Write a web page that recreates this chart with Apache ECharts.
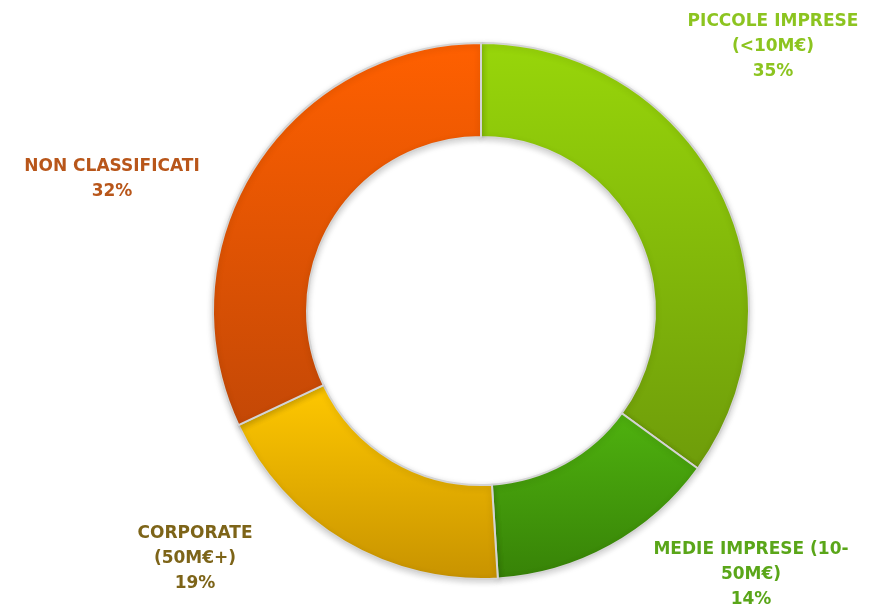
<!DOCTYPE html>
<html>
<head>
<meta charset="utf-8">
<script src="https://cdn.jsdelivr.net/npm/echarts@6/dist/echarts.min.js"></script>
<style>
  html, body { margin: 0; padding: 0; background: #fff; }
  #chart { width: 887px; height: 606px; }
</style>
</head>
<body>
<div id="chart"></div>
<script>
// dati del grafico
const categories = ['PICCOLE IMPRESE\n(<10M€)', 'MEDIE IMPRESE (10-\n50M€)', 'CORPORATE\n(50M€+)', 'NON CLASSIFICATI'];
const values = [35, 14, 19, 32];

// colori: [alto, basso] del gradiente, e colore etichetta
const sliceColors = [
  ['#98d60a', '#6e9c0a'],
  ['#4fb20f', '#378207'],
  ['#ffc800', '#c89300'],
  ['#ff6000', '#c44806'],
];
const labelColors = ['#8cc420', '#5aa619', '#7d6418', '#b8561a'];
// centro delle etichette (px)
const labelPos = [[773, 47], [751, 575], [195, 559], [112, 179]];

let myChart = echarts.init(document.getElementById('chart'));

let option = {
  animation: false,
  series: [
    {
      type: 'pie',
      center: [481, 311],
      radius: [174, 268],
      startAngle: 90,
      clockwise: true,
      data: categories.map((name, i) => ({
        name: name,
        value: values[i],
        itemStyle: {
          color: new echarts.graphic.LinearGradient(0, 0, 0, 1, [
            { offset: 0, color: sliceColors[i][0] },
            { offset: 1, color: sliceColors[i][1] },
          ]),
        },
        label: { color: labelColors[i] },
      })),
      itemStyle: {
        borderColor: '#d4d4d4',
        borderWidth: 2,
        shadowColor: 'rgba(0,0,0,0.18)',
        shadowBlur: 6,
        shadowOffsetY: 2,
      },
      label: {
        show: true,
        position: 'outside',
        formatter: '{b}\n{d}%',
        fontFamily: 'DejaVu Sans',
        fontWeight: 'bold',
        fontSize: 17,
        lineHeight: 25,
        align: 'center',
        overflow: 'none',
        width: 300,
      },
      labelLine: { show: false },
      labelLayout: function (params) {
        const p = labelPos[params.dataIndex];
        return { x: p[0], y: p[1], align: 'center', verticalAlign: 'middle' };
      },
      emphasis: { disabled: true },
    },
  ],
};
myChart.setOption(option);
</script>
</body>
</html>
